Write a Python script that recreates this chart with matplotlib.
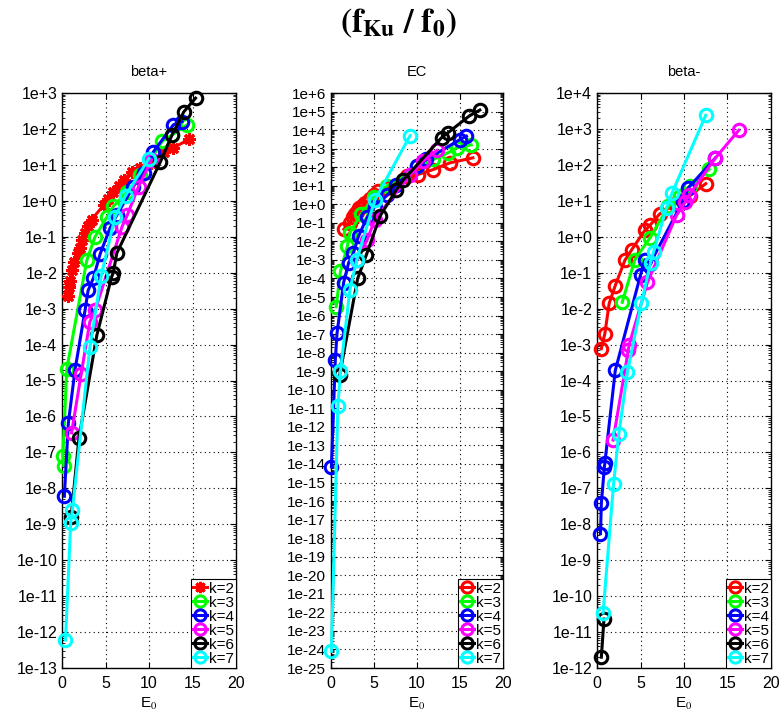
import matplotlib
matplotlib.use("Agg")
import matplotlib.pyplot as plt
from matplotlib.ticker import FixedLocator, LogLocator, NullFormatter

plt.rcParams['font.family'] = ['Liberation Sans', 'DejaVu Sans']
plt.rcParams['mathtext.fontset'] = 'stix'

labels = ["k=2", "k=3", "k=4", "k=5", "k=6", "k=7"]
colors = ["#ff0000", "#00ff00", "#0000ff", "#ff00ff", "#000000", "#00ffff"]
panel_titles = ["beta+", "EC", "beta-"]

# ---- beta+ ----
bp_x2 = [0.65, 0.8, 0.9, 1.1, 1.4, 1.8, 2.1, 2.3, 2.7, 3.0, 3.4, 4.8, 5.3, 5.9, 6.5, 7.1, 8.0, 9.0, 10.2, 11.7, 12.8, 14.6]
bp_y2 = [2.2e-3, 4e-3, 6e-3, 1.2e-2, 2e-2, 3.5e-2, 5e-2, 8e-2, 0.13, 0.2, 0.3, 0.76, 1.1, 1.8, 2.6, 3.8, 6.5, 8, 11, 23, 30, 51]
bp_x3 = [0.2, 0.1, 0.55, 2.85, 3.8, 5.15, 5.9, 7.5, 9.0, 10.2, 11.5, 12.65, 14.4]
bp_y3 = [4.3e-8, 8e-8, 2.1e-5, 2.2e-2, 0.1, 0.35, 0.7, 1.8, 5.3, 14, 45, 68, 130]
bp_x4 = [0.27, 0.73, 1.5, 2.65, 3.0, 3.6, 4.4, 5.5, 6.3, 8.2, 9.4, 10.5, 12.8, 13.8]
bp_y4 = [6e-9, 6.5e-7, 2e-5, 9e-4, 3.2e-3, 7e-3, 3.4e-2, 0.17, 0.4, 2.5, 6, 23, 130, 160]
bp_x5 = [1.1, 2.2, 3.2, 3.8, 6.9, 7.5, 8.8, 10.3]
bp_y5 = [3.5e-7, 1.5e-5, 4.3e-4, 9e-4, 0.19, 0.4, 2.5, 14]
bp_x6 = [1.05, 1.95, 4.0, 5.7, 5.9, 6.3, 11.3, 12.65, 14.0, 15.35]
bp_y6 = [1.6e-9, 2.5e-7, 1.8e-4, 7.6e-3, 1e-2, 3.5e-2, 12, 68, 300, 720]
bp_x7 = [0.4, 1.0, 1.2, 3.2, 4.5, 6.1, 7.3, 10.0]
bp_y7 = [6e-13, 1.1e-9, 2.5e-9, 8.4e-5, 8e-3, 0.36, 1.4, 15]

# ---- EC ----
ec_x2 = [1.5, 2.2, 2.5, 2.8, 3.0, 3.3, 3.6, 4.0, 4.5, 5.0, 5.5, 6.5, 8.8, 10.1, 11.9, 13.8, 16.5]
ec_y2 = [0.045, 0.1, 0.2, 0.3, 0.4, 0.6, 0.8, 1.2, 2, 3, 5, 8, 33, 40, 75, 170, 320]
ec_x3 = [0.6, 1.1, 1.9, 2.2, 3.5, 5.0, 6.5, 10.0, 11.9, 13.6, 14.6, 16.3]
ec_y3 = [3e-6, 2.4e-4, 5.4e-3, 0.029, 0.3, 2.5, 10, 110, 260, 600, 1100, 1600]
ec_x4 = [0.05, 0.5, 0.7, 1.47, 2.05, 2.6, 3.2, 4.2, 5.1, 6.5, 7.6, 10.0, 11.1, 15.0, 15.75]
ec_y4 = [7e-15, 4e-9, 1.1e-7, 6e-5, 7e-4, 2.3e-3, 1.9e-2, 0.2, 0.75, 3, 11, 110, 260, 3100, 4700]
ec_x5 = [3.0, 4.2, 5.1, 9.2, 10.7, 12.3]
ec_y5 = [1e-3, 1.2e-2, 0.15, 38, 210, 800]
ec_x6 = [1.0, 3.1, 4.1, 5.7, 7.6, 8.4, 12.85, 13.6, 16.1, 17.3]
ec_y6 = [6e-10, 1e-4, 1.8e-3, 0.23, 6, 20, 3900, 7200, 5.9e4, 1.2e5]
ec_x7 = [0.05, 0.8, 1.1, 2.2, 3.0, 5.1, 9.2]
ec_y7 = [8e-25, 1.35e-11, 1e-9, 2.5e-5, 1e-3, 1.7, 5100]

# ---- beta- ----
bm_x2 = [0.5, 0.9, 1.4, 2.1, 3.2, 4.0, 5.5, 6.1, 7.2, 9.0, 10.7, 12.5]
bm_y2 = [7.7e-4, 2e-3, 1.4e-2, 4.4e-2, 0.22, 0.44, 1.5, 2.1, 4.3, 8.2, 14, 30]
bm_x3 = [2.9, 4.35, 6.1, 8.2, 9.5, 10.7, 12.9]
bm_y3 = [1.5e-2, 0.23, 0.94, 7, 14, 26, 75]
bm_x4 = [0.4, 0.5, 0.85, 0.9, 2.1, 5.0, 5.5, 6.1, 9.9, 10.5, 13.6]
bm_y4 = [5.5e-9, 3.8e-8, 4e-7, 5e-7, 1.9e-4, 8.6e-2, 0.23, 0.18, 10, 23, 155]
bm_x5 = [1.85, 3.6, 3.7, 5.8, 9.15, 10.1, 10.6, 13.6, 16.3]
bm_y5 = [2.2e-6, 7e-4, 1e-3, 5.4e-2, 4, 9, 14.5, 155, 920]
bm_x6 = [0.5, 0.8]
bm_y6 = [2e-12, 2.3e-11]
bm_x7 = [0.7, 1.9, 2.5, 3.5, 5.1, 6.15, 6.5, 8.0, 8.6, 12.5]
bm_y7 = [3.4e-11, 1.3e-7, 3.2e-6, 1.7e-4, 1.4e-2, 0.19, 0.38, 6.5, 16, 2400]

panels = [
    ([bp_x2, bp_x3, bp_x4, bp_x5, bp_x6, bp_x7], [bp_y2, bp_y3, bp_y4, bp_y5, bp_y6, bp_y7], (-13, 3)),
    ([ec_x2, ec_x3, ec_x4, ec_x5, ec_x6, ec_x7], [ec_y2, ec_y3, ec_y4, ec_y5, ec_y6, ec_y7], (-25, 6)),
    ([bm_x2, bm_x3, bm_x4, bm_x5, bm_x6, bm_x7], [bm_y2, bm_y3, bm_y4, bm_y5, bm_y6, bm_y7], (-12, 4)),
]

fig = plt.figure(figsize=(7.82, 7.18), dpi=100)
lefts = [62 / 782, 331 / 782, 597 / 782]
widths = [174 / 782, 172 / 782, 174 / 782]
bottom = 1 - 668 / 718
height = (668 - 93) / 718

def fmt_exp(e):
    return "1e%s%d" % ("+" if e >= 0 else "-", abs(e))

for i, (xs, ys, (lo, hi)) in enumerate(panels):
    ax = fig.add_axes([lefts[i], bottom, widths[i], height])
    for j in range(6):
        if i == 0 and j == 0:
            mk = (8, 2, 0)
        else:
            mk = 'o'
        ax.plot(xs[j], ys[j], color=colors[j], lw=2.2, marker=mk, ms=9,
                mfc='none', mec=colors[j], mew=2.2, label=labels[j], clip_on=False, zorder=3)
    ax.set_yscale('log')
    ax.set_xlim(0, 20)
    ax.set_ylim(10.0 ** lo, 10.0 ** hi)
    exps = list(range(lo, hi + 1))
    ax.yaxis.set_major_locator(FixedLocator([10.0 ** e for e in exps]))
    ax.set_yticklabels([fmt_exp(e) for e in exps])
    ax.yaxis.set_minor_locator(LogLocator(base=10, subs=range(2, 10), numticks=100))
    ax.yaxis.set_minor_formatter(NullFormatter())
    ax.set_xticks([0, 5, 10, 15, 20])
    ysize = 11.5 if i != 1 else 11
    ax.tick_params(axis='y', labelsize=ysize)
    ax.tick_params(axis='x', labelsize=11.5, pad=6)
    ax.tick_params(which='both', direction='in', top=True, right=True)
    ax.tick_params(which='major', length=4)
    ax.tick_params(which='minor', length=2)
    ax.grid(True, which='major', color='black', linestyle=(0, (1, 3)), linewidth=0.8)
    for s in ax.spines.values():
        s.set_linewidth(1.0)
    ax.set_title(panel_titles[i], fontsize=10.5, pad=12)
    ax.set_xlabel("E$_0$", fontsize=11, labelpad=3)
    leg = ax.legend(loc='lower right', fontsize=11, handlelength=0.9, handletextpad=0.1,
                    borderpad=0.15, labelspacing=0.0, borderaxespad=0.0,
                    fancybox=False, framealpha=1, edgecolor='black', markerscale=0.9)
    leg.get_frame().set_linewidth(0.8)
    leg.set_zorder(5)

fig.text(0.51, 0.968, r'$\mathbf{(f_{Ku}\ /\ f_0)}$', ha='center', va='center', fontsize=24)

fig.savefig("out.png", dpi=100)
